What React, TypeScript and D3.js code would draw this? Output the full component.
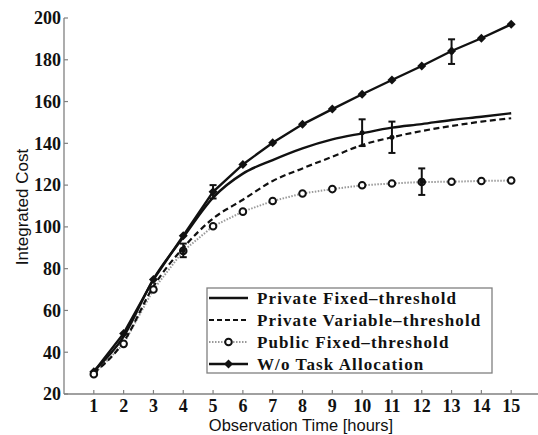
import React from "react";
import * as d3 from "d3";

const hours = [1, 2, 3, 4, 5, 6, 7, 8, 9, 10, 11, 12, 13, 14, 15];
const privateFixed = [31, 47.5, 75, 95, 114, 125.5, 132, 137.6, 141.9, 144.8, 147.5, 149.2, 151.2, 152.7, 154.4];
const privateVariable = [30, 45, 71.5, 90, 104, 113, 122, 128, 133.6, 139.2, 142.9, 145.9, 148.3, 150.4, 152];
const publicFixed = [29.5, 44, 70, 88.5, 100.3, 107.3, 112.4, 116, 118.1, 119.9, 120.8, 121.5, 121.6, 122, 122.2];
const noAllocation = [30.7, 49, 74.8, 95.8, 116.8, 129.9, 140.3, 149.1, 156.4, 163.5, 170.3, 177, 184.2, 190.3, 197];
// error bars: [hour, low, high]
const errorBars: [number, number, number][] = [
  [4, 85.5, 92],
  [5, 113.6, 120],
  [10, 138.7, 151.5],
  [11, 135.4, 150.4],
  [12, 115.3, 128],
  [13, 178, 189.8],
];
const xTicks = hours;
const yTicks = [20, 40, 60, 80, 100, 120, 140, 160, 180, 200];
const legendLabels = [
  "Private Fixed\u2013threshold",
  "Private Variable\u2013threshold",
  "Public Fixed\u2013threshold",
  "W/o Task Allocation",
];

const W = 538;
const H = 435;

export default function App() {
  const x = d3.scaleLinear().domain([0, 16]).range([64, 541]);
  const y = d3.scaleLinear().domain([20, 200]).range([394, 18]);
  const line = (vals: number[]) =>
    d3.line<number>().x((_, i) => x(hours[i])).y((v) => y(v))(vals) || "";
  const smooth = (vals: number[]) =>
    d3.line<number>().x((_, i) => x(hours[i])).y((v) => y(v)).curve(d3.curveMonotoneX)(vals) || "";
  const serif = "'Liberation Serif', 'Times New Roman', serif";
  const sans = "'Liberation Sans', Arial, sans-serif";
  const diamond = (cx: number, cy: number, r: number) =>
    `M${cx},${cy - r}L${cx + r},${cy}L${cx},${cy + r}L${cx - r},${cy}Z`;
  const axisColor = "#808080";

  const legendX = 207;
  const legendY = 288;
  const rowY = [298, 320, 342, 364];

  return (
    <svg width={W} height={H} style={{ position: "absolute", left: 0, top: 0, background: "#fff" }}>
      <rect x={0} y={0} width={W} height={H} fill="#fff" />
      {/* axes */}
      <line x1={x(0)} x2={x(0)} y1={y(200)} y2={y(20)} stroke={axisColor} strokeWidth={1.3} />
      <line x1={x(0)} x2={W} y1={y(20)} y2={y(20)} stroke={axisColor} strokeWidth={1.3} />
      {yTicks.map((t) => (
        <g key={"y" + t}>
          <line x1={x(0)} x2={x(0) + 4} y1={y(t)} y2={y(t)} stroke={axisColor} strokeWidth={1.2} />
          <text x={x(0) - 3} y={y(t)} dy="0.35em" textAnchor="end" fontFamily={serif} fontWeight="bold" fontSize={18} fill="#111">
            {t}
          </text>
        </g>
      ))}
      {xTicks.map((t) => (
        <g key={"x" + t}>
          <line x1={x(t)} x2={x(t)} y1={y(20)} y2={y(20) - 4} stroke={axisColor} strokeWidth={1.2} />
          <text x={x(t)} y={y(20) + 17.5} textAnchor="middle" fontFamily={serif} fontWeight="bold" fontSize={18} fill="#111">
            {t}
          </text>
        </g>
      ))}
      <text x={301} y={431} textAnchor="middle" fontFamily={sans} fontSize={16.5} fill="#111">
        Observation Time [hours]
      </text>
      <text transform={`translate(28,${207}) rotate(-90)`} textAnchor="middle" fontFamily={sans} fontSize={17} fill="#111">
        Integrated Cost
      </text>

      {/* series */}
      <path d={line(publicFixed)} fill="none" stroke="#999" strokeWidth={2} strokeDasharray="1.5,1.5" />
      <path d={smooth(privateVariable)} fill="none" stroke="#111" strokeWidth={2.2} strokeDasharray="6,3.5" />
      <path d={smooth(privateFixed)} fill="none" stroke="#111" strokeWidth={2.4} />
      <path d={line(noAllocation)} fill="none" stroke="#111" strokeWidth={2.4} />
      {noAllocation.map((v, i) => (
        <path key={"d" + i} d={diamond(x(hours[i]), y(v), 4.5)} fill="#111" />
      ))}
      {publicFixed.map((v, i) => (
        <circle key={"c" + i} cx={x(hours[i])} cy={y(v)} r={3.3} fill="#fff" stroke="#111" strokeWidth={2} />
      ))}
      {errorBars.map(([h, lo, hi], i) => (
        <g key={"e" + i} stroke="#111" strokeWidth={2}>
          <line x1={x(h)} x2={x(h)} y1={y(lo)} y2={y(hi)} />
          <line x1={x(h) - 3.5} x2={x(h) + 3.5} y1={y(lo)} y2={y(lo)} />
          <line x1={x(h) - 3.5} x2={x(h) + 3.5} y1={y(hi)} y2={y(hi)} />
          <circle cx={x(h)} cy={(y(lo) + y(hi)) / 2} r={2.5} fill="#111" stroke="none" />
        </g>
      ))}

      {/* legend */}
      <rect x={legendX} y={legendY} width={285} height={85} fill="#fff" stroke={axisColor} strokeWidth={1.3} />
      <line x1={209} x2={248} y1={rowY[0]} y2={rowY[0]} stroke="#111" strokeWidth={2.4} />
      <line x1={209} x2={248} y1={rowY[1]} y2={rowY[1]} stroke="#111" strokeWidth={2.2} strokeDasharray="5,3" />
      <line x1={209} x2={248} y1={rowY[2]} y2={rowY[2]} stroke="#999" strokeWidth={2} strokeDasharray="1.5,1.5" />
      <circle cx={228.5} cy={rowY[2]} r={3.3} fill="#fff" stroke="#111" strokeWidth={2} />
      <line x1={209} x2={248} y1={rowY[3]} y2={rowY[3]} stroke="#111" strokeWidth={2.4} />
      <path d={diamond(228.5, rowY[3], 4.5)} fill="#111" />
      {legendLabels.map((l, i) => (
        <text key={l} x={257} y={rowY[i]} dy="0.33em" fontFamily={serif} fontWeight="bold" fontSize={17} letterSpacing={1.1} fill="#111">
          {l}
        </text>
      ))}
    </svg>
  );
}
